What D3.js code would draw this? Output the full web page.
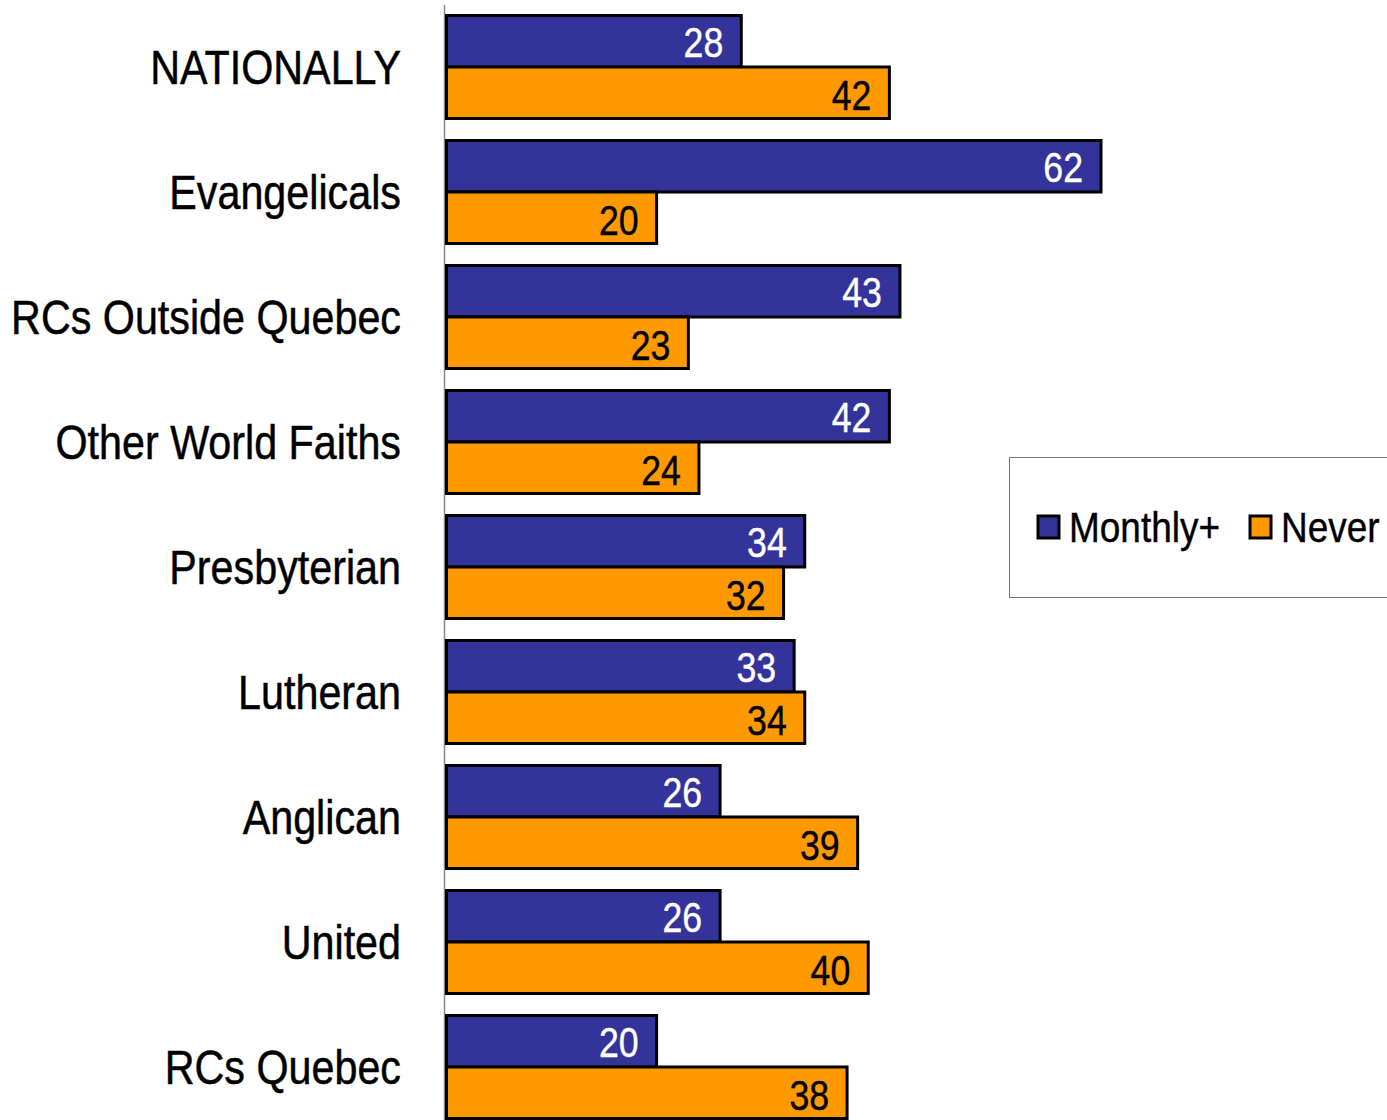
<!DOCTYPE html>
<html><head><meta charset="utf-8">
<script src="https://cdn.jsdelivr.net/npm/d3@7/dist/d3.min.js"></script>
<style>
html,body{margin:0;padding:0;background:#fff;}
svg{display:block;}
text{font-family:"Liberation Sans",Arial,sans-serif;}
</style></head>
<body>
<svg id="chart" width="1387" height="1120"></svg>
<script>
const categories = ["NATIONALLY","Evangelicals","RCs Outside Quebec","Other World Faiths","Presbyterian","Lutheran","Anglican","United","RCs Quebec"];
const monthly = [28,62,43,42,34,33,26,26,20];
const never = [42,20,23,24,32,34,39,40,38];
const seriesNames = ["Monthly+","Never"];
const colors = ["#333399","#FF9900"];
const labelColors = ["#ffffff","#000000"];
const NARROW_NUM = 0.83;
const NARROW_TXT = 0.86;

const svg = d3.select("#chart");
const x = d3.scaleLinear().domain([0,62]).range([445,1101]);
const y = d3.scaleBand().domain(categories).range([-5,1139]).padding(0.152);
const sub = d3.scaleBand().domain(seriesNames).range([0,y.bandwidth()]);

const data = categories.map((c,i)=>({cat:c, vals:[monthly[i],never[i]]}));

// axis line
svg.append("line").attr("x1",x(0)-0.5).attr("x2",x(0)-0.5).attr("y1",5).attr("y2",1120)
  .attr("stroke","#888").attr("stroke-width",1.5);

const g = svg.selectAll("g.cat").data(data).join("g").attr("class","cat")
  .attr("transform",d=>`translate(0,${y(d.cat)})`);

seriesNames.forEach((s,si)=>{
  g.append("rect")
    .attr("x",x(0)+1.5)
    .attr("y",d=>sub(s)+ (si===0?1.5:0))
    .attr("width",d=>x(d.vals[si])-x(0)-1.5)
    .attr("height",sub.bandwidth()-1.5)
    .attr("fill",colors[si]).attr("stroke","#000").attr("stroke-width",3);
  g.append("text")
    .attr("transform",d=>`translate(${x(d.vals[si])-18},${sub(s)+sub.bandwidth()/2+1}) scale(${NARROW_NUM},1)`)
    .attr("text-anchor","end").attr("dominant-baseline","central")
    .attr("font-size",43).attr("fill",labelColors[si])
    .attr("stroke",labelColors[si]).attr("stroke-width",0.4)
    .text(d=>d.vals[si]);
});

// category labels
svg.selectAll("text.cl").data(categories).join("text").attr("class","cl")
  .attr("transform",d=>`translate(401,${y(d)+y.bandwidth()/2}) scale(${NARROW_TXT},1)`)
  .attr("text-anchor","end").attr("dominant-baseline","central")
  .attr("font-size",48).attr("fill","#000").attr("stroke","#000").attr("stroke-width",0.5)
  .text(d=>d);

// legend
const lg = svg.append("g");
lg.append("rect").attr("x",1009.5).attr("y",457.5).attr("width",400).attr("height",140)
  .attr("fill","#fff").attr("stroke","#777").attr("stroke-width",1);
const lx = [1038,1250];
seriesNames.forEach((s,i)=>{
  lg.append("rect").attr("x",lx[i]).attr("y",516).attr("width",21).attr("height",22)
    .attr("fill",colors[i]).attr("stroke","#000").attr("stroke-width",3);
  lg.append("text").attr("transform",`translate(${lx[i]+31},527) scale(${NARROW_TXT},1)`)
    .attr("dominant-baseline","central")
    .attr("font-size",43).attr("fill","#000").attr("stroke","#000").attr("stroke-width",0.4)
    .text(s);
});
</script>
</body></html>
